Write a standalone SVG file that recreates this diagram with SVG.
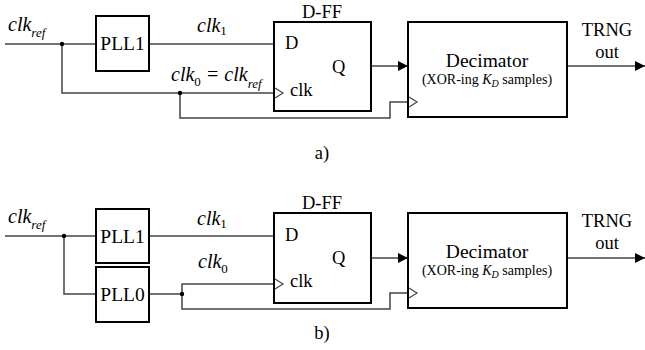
<svg xmlns="http://www.w3.org/2000/svg" width="645" height="350" viewBox="0 0 645 350">
<style>
text{font-family:"Liberation Serif","Times New Roman",serif;fill:#000}
.lb{font-size:18.5px}
.pl{font-size:19.5px}
.it{font-style:italic;font-size:20px}
.sub{font-size:13px}
.box{fill:#fff;stroke:#000;stroke-width:2}
.w{fill:none;stroke:#444;stroke-width:1.5}
.ck{fill:#fff;stroke:#444;stroke-width:1.2}
.dot{fill:#000}
</style>
<defs>
<marker id="ah" markerWidth="10" markerHeight="10" refX="10" refY="5" orient="auto" markerUnits="userSpaceOnUse">
<path d="M0,0 L10,5 L0,10 Z" fill="#000"/>
</marker>
</defs>

<!-- ===== a) ===== -->
<g id="connectors-a">
<path class="w" d="M5,44 H96"/>
<path class="w" d="M149,44 H274"/>
<path class="w" d="M62,44 V93 H274"/>
<path class="w" d="M180,93 V118 H390 V102 H408"/>
<path class="w" d="M371,66 H408" marker-end="url(#ah)"/>
<path class="w" d="M567,66 H645" marker-end="url(#ah)"/>
<circle class="dot" cx="62" cy="44" r="2.2"/>
<circle class="dot" cx="180" cy="93" r="2.2"/>
</g>
<g id="pll1-a">
<rect class="box" x="96" y="16" width="53" height="55"/>
<text class="pl" x="122.5" y="50" text-anchor="middle">PLL1</text>
</g>
<g id="dff-a">
<rect class="box" x="274" y="22" width="97" height="89"/>
<text class="lb" x="322" y="18" text-anchor="middle">D-FF</text>
<text class="lb" x="285" y="49">D</text>
<text class="lb" x="332" y="73">Q</text>
<text class="lb" x="290" y="96">clk</text>
<path class="ck" d="M275,88 L283,93 L275,98"/>
</g>
<g id="dec-a">
<rect class="box" x="408" y="22" width="159" height="95"/>
<text x="487" y="67" text-anchor="middle" style="font-size:19.5px">Decimator</text>
<text x="487" y="84" text-anchor="middle" style="font-size:14px">(XOR-ing <tspan font-style="italic">K</tspan><tspan font-style="italic" font-size="10" dy="3">D</tspan><tspan dy="-3"> samples)</tspan></text>
<path class="ck" d="M409,97 L417,102 L409,107"/>
</g>
<g id="labels-a">
<text x="8" y="31"><tspan class="it">clk</tspan><tspan class="sub" font-style="italic" dy="6">ref</tspan></text>
<text x="197" y="32"><tspan class="it">clk</tspan><tspan class="sub" dy="3">1</tspan></text>
<text x="171" y="81"><tspan class="it">clk</tspan><tspan class="sub" dy="5">0</tspan><tspan class="it" dy="-5"> = clk</tspan><tspan class="sub" font-style="italic" dy="7">ref</tspan></text>
<text class="lb" x="607" y="36" text-anchor="middle">TRNG</text>
<text class="lb" x="607" y="58" text-anchor="middle">out</text>
<text class="lb" x="322" y="159" text-anchor="middle">a)</text>
</g>

<!-- ===== b) ===== -->
<g id="connectors-b">
<path class="w" d="M5,236 H96"/>
<path class="w" d="M149,236 H274"/>
<path class="w" d="M64,236 V294 H96"/>
<path class="w" d="M149,294 H182"/>
<path class="w" d="M182,294 V284 H274"/>
<path class="w" d="M182,294 V309 H390 V293 H408"/>
<path class="w" d="M371,258 H408" marker-end="url(#ah)"/>
<path class="w" d="M567,258 H645" marker-end="url(#ah)"/>
<circle class="dot" cx="64" cy="236" r="2.2"/>
<circle class="dot" cx="182" cy="294" r="2.2"/>
</g>
<g id="pll1-b">
<rect class="box" x="96" y="209" width="53" height="54"/>
<text class="pl" x="122.5" y="243" text-anchor="middle">PLL1</text>
</g>
<g id="pll0-b">
<rect class="box" x="96" y="267" width="53" height="55"/>
<text class="pl" x="122.5" y="301" text-anchor="middle">PLL0</text>
</g>
<g id="dff-b">
<rect class="box" x="274" y="213" width="97" height="90"/>
<text class="lb" x="322" y="209" text-anchor="middle">D-FF</text>
<text class="lb" x="285" y="241">D</text>
<text class="lb" x="332" y="264">Q</text>
<text class="lb" x="290" y="287">clk</text>
<path class="ck" d="M275,279 L283,284 L275,289"/>
</g>
<g id="dec-b">
<rect class="box" x="408" y="213" width="159" height="95"/>
<text x="487" y="258" text-anchor="middle" style="font-size:19.5px">Decimator</text>
<text x="487" y="275" text-anchor="middle" style="font-size:14px">(XOR-ing <tspan font-style="italic">K</tspan><tspan font-style="italic" font-size="10" dy="3">D</tspan><tspan dy="-3"> samples)</tspan></text>
<path class="ck" d="M409,288 L417,293 L409,298"/>
</g>
<g id="labels-b">
<text x="8" y="223"><tspan class="it">clk</tspan><tspan class="sub" font-style="italic" dy="6">ref</tspan></text>
<text x="197" y="225"><tspan class="it">clk</tspan><tspan class="sub" dy="3">1</tspan></text>
<text x="198" y="268"><tspan class="it">clk</tspan><tspan class="sub" dy="5">0</tspan></text>
<text class="lb" x="607" y="227" text-anchor="middle">TRNG</text>
<text class="lb" x="607" y="249" text-anchor="middle">out</text>
<text class="lb" x="322" y="339" text-anchor="middle">b)</text>
</g>
</svg>
